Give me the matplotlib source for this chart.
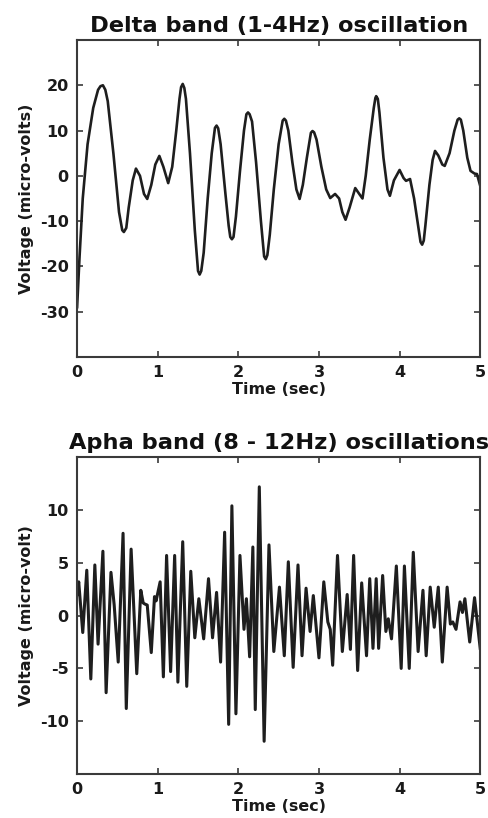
import matplotlib
matplotlib.use("Agg")
import matplotlib.pyplot as plt

# ---- Delta band (1-4 Hz) data: time (s) and voltage (micro-volts) ----
delta_t = [0.00, 0.03, 0.07, 0.13, 0.20, 0.26, 0.29, 0.32, 0.35, 0.38, 0.45, 0.52,
           0.56, 0.58, 0.61, 0.64, 0.69, 0.73, 0.78, 0.83, 0.87, 0.92, 0.97, 1.02,
           1.07, 1.13, 1.18, 1.23, 1.27, 1.29, 1.31, 1.33, 1.35, 1.40, 1.46, 1.50,
           1.52, 1.54, 1.57, 1.62, 1.67, 1.71, 1.73, 1.75, 1.78, 1.84, 1.88, 1.90,
           1.92, 1.94, 1.97, 2.02, 2.07, 2.10, 2.12, 2.14, 2.17, 2.22, 2.28, 2.32,
           2.34, 2.36, 2.39, 2.44, 2.50, 2.55, 2.57, 2.59, 2.62, 2.67, 2.72, 2.76,
           2.80, 2.85, 2.90, 2.92, 2.94, 2.97, 3.03, 3.09, 3.14, 3.20, 3.25, 3.29,
           3.33, 3.38, 3.45, 3.50, 3.54, 3.58, 3.63, 3.68, 3.70, 3.71, 3.73, 3.75,
           3.80, 3.85, 3.88, 3.93, 4.00, 4.05, 4.08, 4.13, 4.18, 4.23, 4.26, 4.28,
           4.30, 4.32, 4.37, 4.41, 4.44, 4.48, 4.53, 4.56, 4.62, 4.68, 4.72, 4.74,
           4.76, 4.79, 4.84, 4.88, 4.93, 4.96, 5.00]
delta_v = [-29, -18, -5, 7, 15, 19, 19.8, 20, 19, 16.5, 5, -8,
           -12, -12.4, -11.5, -7, -1, 1.6, 0, -4, -5.1, -2, 2.5, 4.4,
           2, -1.6, 2, 10, 17, 19.6, 20.3, 19.4, 17, 5, -12, -21,
           -21.8, -21, -17, -5, 5, 10.6, 11.1, 10.5, 7, -4, -11, -13.5,
           -14, -13.5, -9, 1, 10, 13.6, 14, 13.6, 12, 3, -10, -17.8,
           -18.4, -17.5, -13, -3, 7, 12.2, 12.6, 12.2, 10, 3, -3, -5.1,
           -2, 4, 9.5, 9.9, 9.6, 8, 2, -3, -4.9, -4, -5, -8,
           -9.7, -7, -2.7, -4, -5, 0, 8, 15, 17.2, 17.6, 17, 14,
           4, -3, -4.4, -1, 1.3, -0.5, -1.1, -0.7, -5, -11, -14.6, -15.2,
           -14.3, -11, -2, 3.5, 5.5, 4.5, 2.5, 2.2, 5, 10, 12.4, 12.7,
           12.4, 10, 4, 1.1, 0.5, 0.4, -2.2]

# ---- Alpha band (8-12 Hz) data: time (s) and voltage (micro-volt) ----
alpha_t = [0.00, 0.02, 0.07, 0.12, 0.17, 0.22, 0.26, 0.32, 0.36, 0.42, 0.46, 0.51,
           0.57, 0.61, 0.67, 0.74, 0.79, 0.82, 0.84, 0.87, 0.92, 0.96, 0.98, 1.03,
           1.07, 1.11, 1.16, 1.21, 1.25, 1.31, 1.36, 1.41, 1.46, 1.51, 1.57, 1.63,
           1.68, 1.73, 1.78, 1.83, 1.88, 1.92, 1.97, 2.02, 2.07, 2.10, 2.14, 2.18,
           2.21, 2.26, 2.32, 2.38, 2.44, 2.51, 2.57, 2.62, 2.68, 2.74, 2.79, 2.84,
           2.89, 2.93, 3.00, 3.06, 3.11, 3.14, 3.17, 3.23, 3.29, 3.35, 3.39, 3.43,
           3.48, 3.53, 3.59, 3.63, 3.67, 3.71, 3.74, 3.79, 3.83, 3.86, 3.90, 3.96,
           4.02, 4.06, 4.12, 4.17, 4.23, 4.29, 4.33, 4.38, 4.43, 4.48, 4.53, 4.59,
           4.63, 4.66, 4.70, 4.75, 4.78, 4.81, 4.87, 4.93, 5.00]
alpha_v = [2.0, 3.2, -1.6, 4.3, -6.0, 4.8, -2.7, 6.1, -7.3, 4.1, 1.0, -4.4,
           7.8, -8.8, 6.3, -5.5, 2.4, 1.2, 1.1, 1.0, -3.5, 1.8, 1.4, 3.2,
           -5.8, 5.7, -5.3, 5.7, -6.3, 7.0, -6.7, 4.2, -2.1, 1.6, -2.2, 3.5,
           -2.1, 2.2, -4.4, 7.9, -10.3, 10.4, -9.3, 5.7, -1.3, 1.6, -3.9, 6.5,
           -8.9, 12.2, -11.9, 6.7, -3.4, 2.7, -3.8, 5.1, -4.9, 4.8, -3.8, 2.6,
           -1.5, 1.9, -4.0, 3.2, -0.6, -1.3, -4.7, 5.7, -3.4, 2.0, -3.2, 5.7,
           -5.2, 3.1, -3.8, 3.5, -3.1, 3.5, -3.1, 3.8, -1.5, -0.3, -2.2, 4.7,
           -5.0, 4.7, -5.0, 6.0, -3.4, 2.4, -3.8, 2.7, -1.1, 2.7, -4.4, 2.7,
           -0.8, -0.6, -1.3, 1.3, 0.3, 1.6, -2.5, 1.7, -3.1]

x_ticks = [0, 1, 2, 3, 4, 5]
delta_yticks = [-30, -20, -10, 0, 10, 20]
alpha_yticks = [-10, -5, 0, 5, 10]

plt.rcParams['font.family'] = ['DejaVu Sans']
plt.rcParams['font.weight'] = 'bold'
plt.rcParams['axes.unicode_minus'] = False

fig = plt.figure(figsize=(4.88, 8.18), dpi=100)
ax1 = fig.add_axes([0.158, 0.5636, 0.826, 0.3875])
ax2 = fig.add_axes([0.158, 0.0538, 0.826, 0.3872])

line_color = '#1e1e1e'
spine_color = '#3a3a3a'


def style(ax, yticks, ylim, title, ylabel):
    ax.set_xlim(0, 5)
    ax.set_ylim(*ylim)
    ax.set_xticks(x_ticks)
    ax.set_yticks(yticks)
    ax.tick_params(direction='in', length=4, width=1.2, color=spine_color,
                   top=True, right=True, labelsize=11.5, pad=6,
                   labelcolor='#1a1a1a')
    for lab in ax.get_xticklabels() + ax.get_yticklabels():
        lab.set_fontweight('bold')
    for s in ax.spines.values():
        s.set_linewidth(1.5)
        s.set_color(spine_color)
    ax.set_title(title, fontsize=16.2, fontweight='bold', pad=6, color='#111111')
    ax.set_xlabel('Time (sec)', fontsize=11.5, fontweight='bold', labelpad=1,
                  color='#1a1a1a')
    ax.set_ylabel(ylabel, fontsize=11.5, fontweight='bold', labelpad=4,
                  color='#1a1a1a')


ax1.plot(delta_t, delta_v, color=line_color, lw=1.9, solid_joinstyle='round')
style(ax1, delta_yticks, (-40, 30), 'Delta band (1-4Hz) oscillation',
      'Voltage (micro-volts)')

ax2.plot(alpha_t, alpha_v, color=line_color, lw=2.2, solid_joinstyle='round')
style(ax2, alpha_yticks, (-15, 15), 'Apha band (8 - 12Hz) oscillations',
      'Voltage (micro-volt)')

fig.savefig('out.png', dpi=100)
